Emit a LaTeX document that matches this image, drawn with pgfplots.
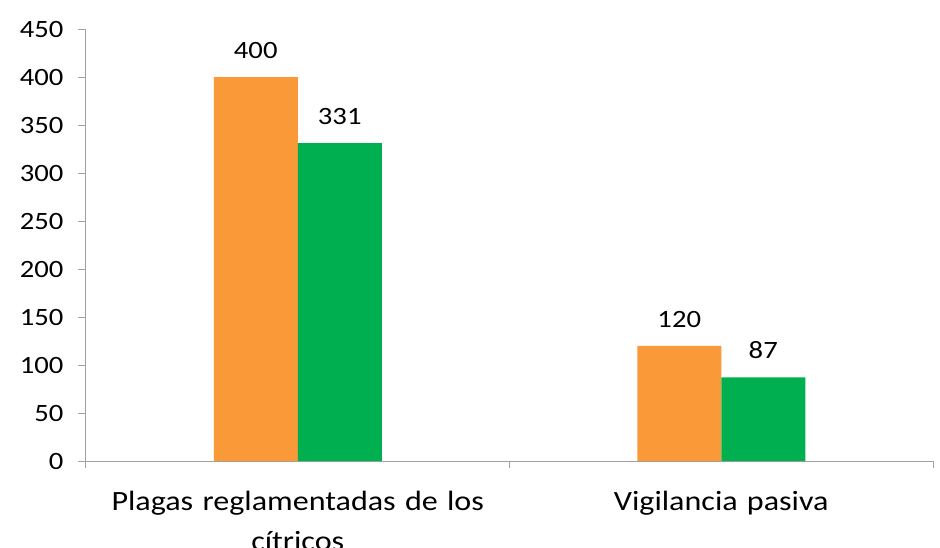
\documentclass[border=0pt]{standalone}
\usepackage{fontspec}
\setmainfont{Carlito}[FakeStretch=1.15]
\usepackage{pgfplots}
\pgfplotsset{compat=1.18}
\definecolor{orangebar}{RGB}{249,153,56}
\definecolor{greenbar}{RGB}{0,176,80}
\definecolor{axisgray}{RGB}{160,160,160}
\begin{document}
\begin{tikzpicture}
\useasboundingbox (0bp,0bp) rectangle (940bp,-548bp);
\clip (0bp,0bp) rectangle (940bp,-548bp);
\begin{axis}[
  at={(86bp,-461bp)}, anchor=south west,
  scale only axis, width=847bp, height=432bp,
  xmin=0, xmax=2, ymin=0, ymax=450,
  axis x line*=bottom, axis y line*=left,
  axis line style={axisgray, line width=1bp},
  tick align=outside,
  ytick={0,50,...,450},
  y tick style={axisgray, line width=1bp},
  major tick length=8bp,
  y tick label style={font=\fontsize{25}{29}\selectfont, xshift=-11bp},
  /pgf/number format/assume math mode=true,
  xtick={0.5,1.5},
  xticklabels={{Plagas reglamentadas de los\\cítricos}, {Vigilancia pasiva}},
  x tick style={draw=none},
  x tick label style={font=\fontsize{28}{40}\selectfont, text width=460bp, align=center, yshift=-19bp},
  extra x ticks={0,1,2},
  extra x tick labels={,,},
  extra x tick style={x tick style={draw=axisgray, line width=1bp}, major tick length=7bp},
  ybar=0pt, bar width=84bp,
  nodes near coords,
  nodes near coords style={font=\fontsize{25}{29}\selectfont, black, yshift=15bp},
]
\addplot[fill=orangebar, draw=none] coordinates {(0.5,400) (1.5,120)};
\addplot[fill=greenbar, draw=none] coordinates {(0.5,331) (1.5,87)};
\end{axis}
\end{tikzpicture}
\end{document}
